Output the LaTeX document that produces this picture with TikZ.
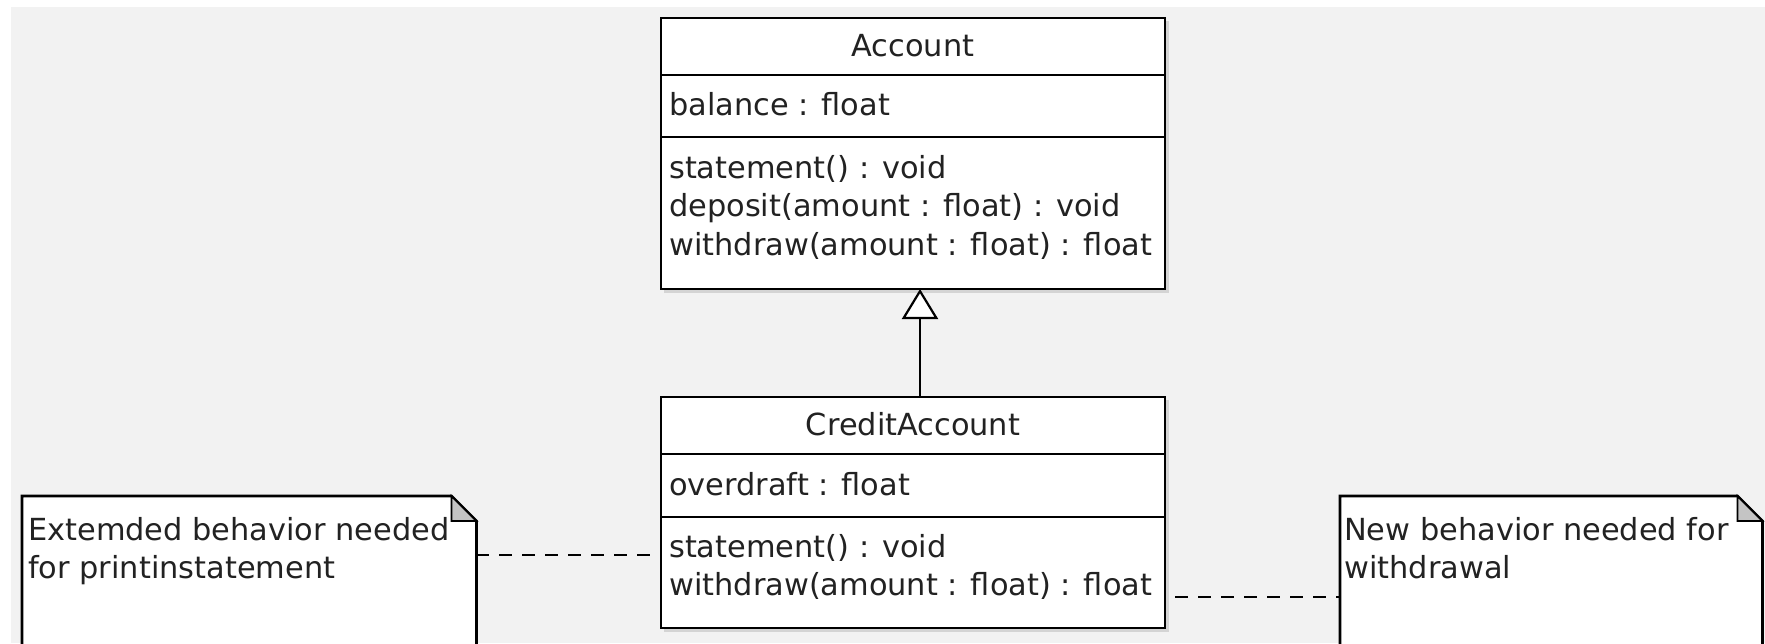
\documentclass[tikz,border=0pt]{standalone}
\usepackage{fontspec}
\newfontfamily\umlfont{DejaVu Sans}
\usetikzlibrary{arrows.meta}
\definecolor{bggray}{HTML}{F2F2F2}
\definecolor{foldgray}{HTML}{C4C4C4}
\definecolor{txtcol}{HTML}{222222}
\tikzset{
  compart/.style={draw=black, line width=2.7pt, fill=white, anchor=north west,
    minimum width=504pt, inner sep=0pt, outer sep=0pt},
  shadowbox/.style={fill=black, opacity=0.12},
  txt/.style={anchor=base west, inner sep=0pt, text=txtcol,
    font=\umlfont\fontsize{30.4}{38}\selectfont},
  txtc/.style={txt, anchor=base},
  noteframe/.style={draw=none, fill=none, anchor=north west, inner sep=0pt,
    minimum width=454pt, minimum height=170pt},
  notedraw/.style={draw=black, line width=2.7pt, fill=white, line join=miter},
  folddraw/.style={draw=black, line width=1.8pt, fill=foldgray},
  genline/.style={draw=black, line width=2.4pt,
    -{Triangle[open, fill=white, length=30pt, width=36pt, line width=2.2pt]}},
  noteline/.style={draw=black, line width=2.5pt, dash pattern=on 13pt off 10pt}
}
\begin{document}
\begin{tikzpicture}[x=1pt, y=-1pt]
\clip (0,0) rectangle (1765,643);
\fill[white] (0,0) rectangle (1765,643);
\fill[bggray] (11,7) rectangle (1765,643);

% shadows
\fill[shadowbox] (664,21) rectangle (1169,293);
\fill[shadowbox] (664,400) rectangle (1169,632);

% Account
\node[compart, minimum height=57pt] (acchead) at (661,18) {};
\node[compart, minimum height=62pt] (accattr) at (661,75) {};
\node[compart, minimum height=152pt] (accmeth) at (661,137) {};
\node[txtc] (accname) at (913,56) {Account};
\node[txt] (accbal) at (669,115) {balance : float};
\node[txt] (accst) at (669,178) {statement() : void};
\node[txt] (accdep) at (669,216.5) {deposit(amount : float) : void};
\node[txt] (accwd) at (669,255) {withdraw(amount : float) : float};

% CreditAccount
\node[compart, minimum height=57pt] (credhead) at (661,397) {};
\node[compart, minimum height=63pt] (credattr) at (661,454) {};
\node[compart, minimum height=111pt] (credmeth) at (661,517) {};
\node[txtc] (credname) at (913,435) {CreditAccount};
\node[txt] (credod) at (669,495) {overdraft : float};
\node[txt] (credst) at (669,557) {statement() : void};
\node[txt] (credwd) at (669,595.5) {withdraw(amount : float) : float};

% generalization
\coordinate (gx) at (920,0);
\draw[genline] (gx |- credhead.north) -- (gx |- accmeth.south);

% left note
\node[noteframe] (note1) at (22,496) {};
\draw[notedraw] (note1.north west) -- ([xshift=-25pt]note1.north east)
  -- ([yshift=-25pt]note1.north east) -- (note1.south east)
  -- (note1.south west) -- cycle;
\draw[folddraw] ([xshift=-25pt]note1.north east) -- ([xshift=-25pt,yshift=-25pt]note1.north east)
  -- ([yshift=-25pt]note1.north east) -- cycle;
\node[txt] (note1a) at (28,540) {Extemded behavior needed};
\node[txt] (note1b) at (28,578) {for printinstatement};

% right note
\node[noteframe, minimum width=422pt] (note2) at (1340,496) {};
\draw[notedraw] (note2.north west) -- ([xshift=-25pt]note2.north east)
  -- ([yshift=-25pt]note2.north east) -- (note2.south east)
  -- (note2.south west) -- cycle;
\draw[folddraw] ([xshift=-25pt]note2.north east) -- ([xshift=-25pt,yshift=-25pt]note2.north east)
  -- ([yshift=-25pt]note2.north east) -- cycle;
\node[txt] (note2a) at (1344,540) {New behavior needed for};
\node[txt] (note2b) at (1344,578) {withdrawal};

% note connectors
\draw[noteline] ([yshift=-59pt]note1.north east) -- ([yshift=-38pt]credmeth.north west);
\draw[noteline, dash phase=13pt] ([yshift=-80pt]credmeth.north east) -- ([yshift=-101pt]note2.north west);
\end{tikzpicture}
\end{document}
